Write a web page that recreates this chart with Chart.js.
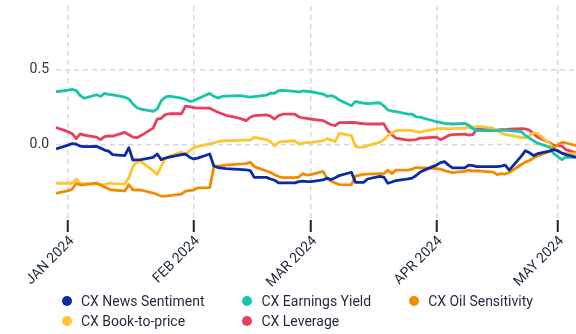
<!DOCTYPE html>
<html lang="en">
<head>
    <meta charset="UTF-8">
    <title>CX Factors</title>
    <script src="https://cdn.jsdelivr.net/npm/chart.js"></script>
    <style>
        body {
            margin: 0;
            padding: 0;
            background: #ffffff;
            font-family: 'Roboto', sans-serif;
        }

        .wrap {
            position: relative;
            width: 576px;
            height: 334px;
        }

        .legend {
            position: absolute;
            left: 62px;
            top: 291px;
            display: grid;
            grid-template-columns: auto auto auto;
            column-gap: 38px;
            font-size: 14px;
            line-height: 20px;
            color: #1e2a3a;
        }

        .legend-item {
            display: flex;
            align-items: center;
            white-space: nowrap;
        }

        .legend-dot {
            width: 10px;
            height: 10px;
            border-radius: 50%;
            margin-right: 9px;
        }
    </style>
</head>
<body>
    <div class="wrap">
        <canvas id="factors"></canvas>
        <div id="legend" class="legend"></div>
    </div>

    <script>
        // Trading days
        const dates = [
            "2023-12-29",
            "2024-01-01", "2024-01-02", "2024-01-03", "2024-01-04", "2024-01-05",
            "2024-01-08", "2024-01-09", "2024-01-10", "2024-01-11", "2024-01-12",
            "2024-01-15", "2024-01-16", "2024-01-17", "2024-01-18", "2024-01-19",
            "2024-01-22", "2024-01-23", "2024-01-24", "2024-01-25", "2024-01-26",
            "2024-01-29", "2024-01-30", "2024-01-31", "2024-02-01", "2024-02-02",
            "2024-02-05", "2024-02-06", "2024-02-07", "2024-02-08", "2024-02-09",
            "2024-02-12", "2024-02-13", "2024-02-14", "2024-02-15", "2024-02-16",
            "2024-02-19", "2024-02-20", "2024-02-21", "2024-02-22", "2024-02-23",
            "2024-02-26", "2024-02-27", "2024-02-28", "2024-02-29", "2024-03-01",
            "2024-03-04", "2024-03-05", "2024-03-06", "2024-03-07", "2024-03-08",
            "2024-03-11", "2024-03-12", "2024-03-13", "2024-03-14", "2024-03-15",
            "2024-03-18", "2024-03-19", "2024-03-20", "2024-03-21", "2024-03-22",
            "2024-03-25", "2024-03-26", "2024-03-27", "2024-03-28", "2024-03-29",
            "2024-04-01", "2024-04-02", "2024-04-03", "2024-04-04", "2024-04-05",
            "2024-04-08", "2024-04-09", "2024-04-10", "2024-04-11", "2024-04-12",
            "2024-04-15", "2024-04-16", "2024-04-17", "2024-04-18", "2024-04-19",
            "2024-04-22", "2024-04-23", "2024-04-24", "2024-04-25", "2024-04-26",
            "2024-04-29", "2024-04-30", "2024-05-01", "2024-05-02", "2024-05-03",
            "2024-05-06"
        ];

        const newsSentiment = [
            -0.028,
            -0.003, 0.007, 0.003, -0.01, -0.013,
            -0.011, -0.023, -0.036, -0.043, -0.066,
            -0.073, -0.02, -0.103, -0.101, -0.099,
            -0.084, -0.062, -0.099, -0.089, -0.083,
            -0.066, -0.062, -0.083, -0.095, -0.089,
            -0.062, -0.142, -0.152, -0.156, -0.159,
            -0.164, -0.166, -0.168, -0.172, -0.217,
            -0.217, -0.228, -0.235, -0.254, -0.254,
            -0.254, -0.245, -0.242, -0.245, -0.245,
            -0.234, -0.222, -0.232, -0.219, -0.205,
            -0.183, -0.25, -0.25, -0.25, -0.228,
            -0.21, -0.215, -0.256, -0.248, -0.238,
            -0.227, -0.222, -0.205, -0.182, -0.169,
            -0.136, -0.119, -0.113, -0.136, -0.154,
            -0.154, -0.136, -0.139, -0.146, -0.146,
            -0.146, -0.146, -0.142, -0.136, -0.169,
            -0.076, -0.04, -0.053, -0.073, -0.06,
            -0.043, -0.033, -0.04, -0.056, -0.066,
            -0.086
        ];

        const earningsYield = [
            0.351,
            0.362, 0.367, 0.358, 0.325, 0.308,
            0.331, 0.32, 0.34, 0.334, 0.331,
            0.315, 0.303, 0.27, 0.245, 0.235,
            0.221, 0.236, 0.291, 0.315, 0.322,
            0.309, 0.301, 0.288, 0.291, 0.305,
            0.34, 0.321, 0.309, 0.32, 0.322,
            0.325, 0.323, 0.319, 0.315, 0.318,
            0.328, 0.342, 0.341, 0.358, 0.36,
            0.354, 0.349, 0.356, 0.354, 0.351,
            0.336, 0.321, 0.325, 0.315, 0.296,
            0.258, 0.287, 0.281, 0.275, 0.272,
            0.278, 0.258, 0.23, 0.222, 0.219,
            0.203, 0.202, 0.185, 0.182, 0.175,
            0.152, 0.148, 0.141, 0.139, 0.137,
            0.141, 0.129, 0.106, 0.093, 0.093,
            0.093, 0.093, 0.096, 0.096, 0.093,
            0.086, 0.06, 0.043, 0.026, 0.01,
            -0.017, -0.06, -0.079, -0.099, -0.083,
            -0.084
        ];

        const oilSensitivity = [
            -0.323,
            -0.305, -0.295, -0.258, -0.268, -0.265,
            -0.255, -0.268, -0.281, -0.295, -0.301,
            -0.307, -0.265, -0.3, -0.301, -0.301,
            -0.321, -0.331, -0.342, -0.341, -0.338,
            -0.328, -0.309, -0.305, -0.301, -0.287,
            -0.285, -0.149, -0.141, -0.139, -0.136,
            -0.129, -0.128, -0.126, -0.117, -0.146,
            -0.175, -0.185, -0.199, -0.212, -0.219,
            -0.219, -0.215, -0.192, -0.202, -0.199,
            -0.177, -0.227, -0.242, -0.255, -0.265,
            -0.267, -0.209, -0.202, -0.197, -0.195,
            -0.192, -0.192, -0.169, -0.192, -0.169,
            -0.169, -0.162, -0.152, -0.154, -0.154,
            -0.159, -0.162, -0.172, -0.179, -0.185,
            -0.177, -0.169, -0.174, -0.175, -0.175,
            -0.182, -0.199, -0.192, -0.195, -0.185,
            -0.132, -0.116, -0.106, -0.089, -0.076,
            -0.043, -0.02, -0.003, 0.015, 0.011,
            -0.01
        ];

        const bookToPrice = [
            -0.256,
            -0.256, -0.256, -0.228, -0.258, -0.26,
            -0.26, -0.265, -0.265, -0.256, -0.258,
            -0.262, -0.219, -0.146, -0.116, -0.113,
            -0.172, -0.199, -0.144, -0.093, -0.076,
            -0.05, -0.07, -0.04, -0.02, -0.013,
            0.005, 0.011, 0.02, 0.025, 0.026,
            0.028, 0.03, 0.03, 0.031, 0.048,
            0.033, 0.02, -0.007, 0.015, 0.02,
            0.026, 0.005, 0.01, 0.013, 0.015,
            0.026, 0.04, 0.03, 0.02, 0.075,
            0.06, -0.013, -0.018, -0.017, -0.007,
            0.015, 0.033, 0.06, 0.076, 0.093,
            0.097, 0.093, 0.086, 0.081, 0.089,
            0.103, 0.108, 0.106, 0.104, 0.106,
            0.109, 0.114, 0.117, 0.119, 0.119,
            0.109, 0.093, 0.079, 0.066, 0.063,
            0.046, 0.046, 0.06, 0.079, 0.073,
            0.007, -0.026, -0.046, -0.056, -0.058,
            -0.06
        ];

        const leverage = [
            0.113,
            0.086, 0.073, 0.04, 0.071, 0.063,
            0.05, 0.033, 0.053, 0.058, 0.056,
            0.081, 0.066, 0.05, 0.046, 0.06,
            0.11, 0.17, 0.175, 0.199, 0.205,
            0.205, 0.255, 0.252, 0.245, 0.243,
            0.242, 0.228, 0.215, 0.205, 0.195,
            0.177, 0.169, 0.159, 0.182, 0.192,
            0.197, 0.189, 0.17, 0.193, 0.202,
            0.202, 0.185, 0.177, 0.174, 0.17,
            0.159, 0.146, 0.132, 0.126, 0.146,
            0.148, 0.146, 0.142, 0.139, 0.137,
            0.137, 0.139, 0.093, 0.066, 0.043,
            0.03, 0.031, 0.034, 0.043, 0.044,
            0.05, 0.033, 0.046, 0.061, 0.066,
            0.07, 0.063, 0.066, 0.103, 0.106,
            0.097, 0.096, 0.099, 0.099, 0.103,
            0.106, 0.104, 0.096, 0.073, 0.05,
            0.013, -0.007, -0.007, -0.01, -0.033,
            -0.06
        ];

        // Month ticks on the x axis
        const tickDates = ["2024-01-01", "2024-02-01", "2024-03-01", "2024-04-01", "2024-05-01"];
        const tickLabels = ["JAN 2024", "FEB 2024", "MAR 2024", "APR 2024", "MAY 2024"];
        const yTicks = [0, 0.5];

        const series = [
            { label: 'CX News Sentiment', data: newsSentiment, color: '#0b2aa6' },
            { label: 'CX Earnings Yield', data: earningsYield, color: '#17c4ad' },
            { label: 'CX Oil Sensitivity', data: oilSensitivity, color: '#f28b00' },
            { label: 'CX Book-to-price', data: bookToPrice, color: '#ffc52e' },
            { label: 'CX Leverage', data: leverage, color: '#e6405f' }
        ];

        // days counted from 1 Jan 2024
        const DAY = 86400000;
        const origin = Date.parse('2024-01-01');
        const toDay = s => (Date.parse(s) - origin) / DAY;
        const xs = dates.map(toDay);
        const tickDays = tickDates.map(toDay);

        Chart.defaults.font.family = 'Roboto';

        const ctx = document.getElementById('factors').getContext('2d');
        new Chart(ctx, {
            type: 'line',
            data: {
                datasets: series.map(s => ({
                    label: s.label,
                    data: s.data.map((v, i) => ({ x: xs[i], y: v })),
                    borderColor: s.color,
                    backgroundColor: s.color,
                    borderWidth: 2.8,
                    pointRadius: 0,
                    tension: 0,
                    fill: false,
                    borderJoinStyle: 'round'
                }))
            },
            options: {
                responsive: true,
                maintainAspectRatio: false,
                animation: false,
                layout: { padding: { top: 6, left: 0, right: 0, bottom: 0 } },
                plugins: {
                    legend: { display: false },
                    tooltip: { enabled: false }
                },
                scales: {
                    x: {
                        type: 'linear',
                        min: -3,
                        max: 125.5,
                        afterBuildTicks: scale => {
                            scale.ticks = tickDays.map(v => ({ value: v }));
                        },
                        afterFit: scale => {
                            scale.height = 114;
                            scale.paddingLeft = 0;
                            scale.paddingRight = 0;
                        },
                        border: { display: false, dash: [5, 4] },
                        grid: {
                            color: '#d8d8d8',
                            lineWidth: 1.5,
                            tickLength: 12,
                            tickColor: '#1b2633',
                            tickWidth: 2,
                            tickBorderDash: []
                        },
                        ticks: {
                            minRotation: 45,
                            maxRotation: 45,
                            padding: 1,
                            labelOffset: 4,
                            color: '#1e2a3a',
                            font: { size: 14 },
                            callback: value => tickLabels[tickDays.indexOf(value)]
                        }
                    },
                    y: {
                        min: -0.5,
                        max: 0.92,
                        afterBuildTicks: scale => {
                            scale.ticks = yTicks.map(v => ({ value: v }));
                        },
                        afterFit: scale => {
                            scale.width = 56;
                            scale.paddingTop = 0;
                            scale.paddingBottom = 0;
                        },
                        border: { display: false, dash: [5, 4] },
                        grid: {
                            color: '#d8d8d8',
                            lineWidth: 1.5,
                            drawTicks: false
                        },
                        ticks: {
                            padding: 7,
                            color: '#2b3744',
                            font: { size: 14 },
                            callback: value => value.toFixed(1)
                        }
                    }
                }
            }
        });

        // legend laid out as a three-column grid under the axis
        const legend = document.getElementById('legend');
        series.forEach(s => {
            const item = document.createElement('div');
            item.className = 'legend-item';
            item.innerHTML = '<span class="legend-dot" style="background:' + s.color + '"></span>' + s.label;
            legend.appendChild(item);
        });
    </script>
</body>
</html>
